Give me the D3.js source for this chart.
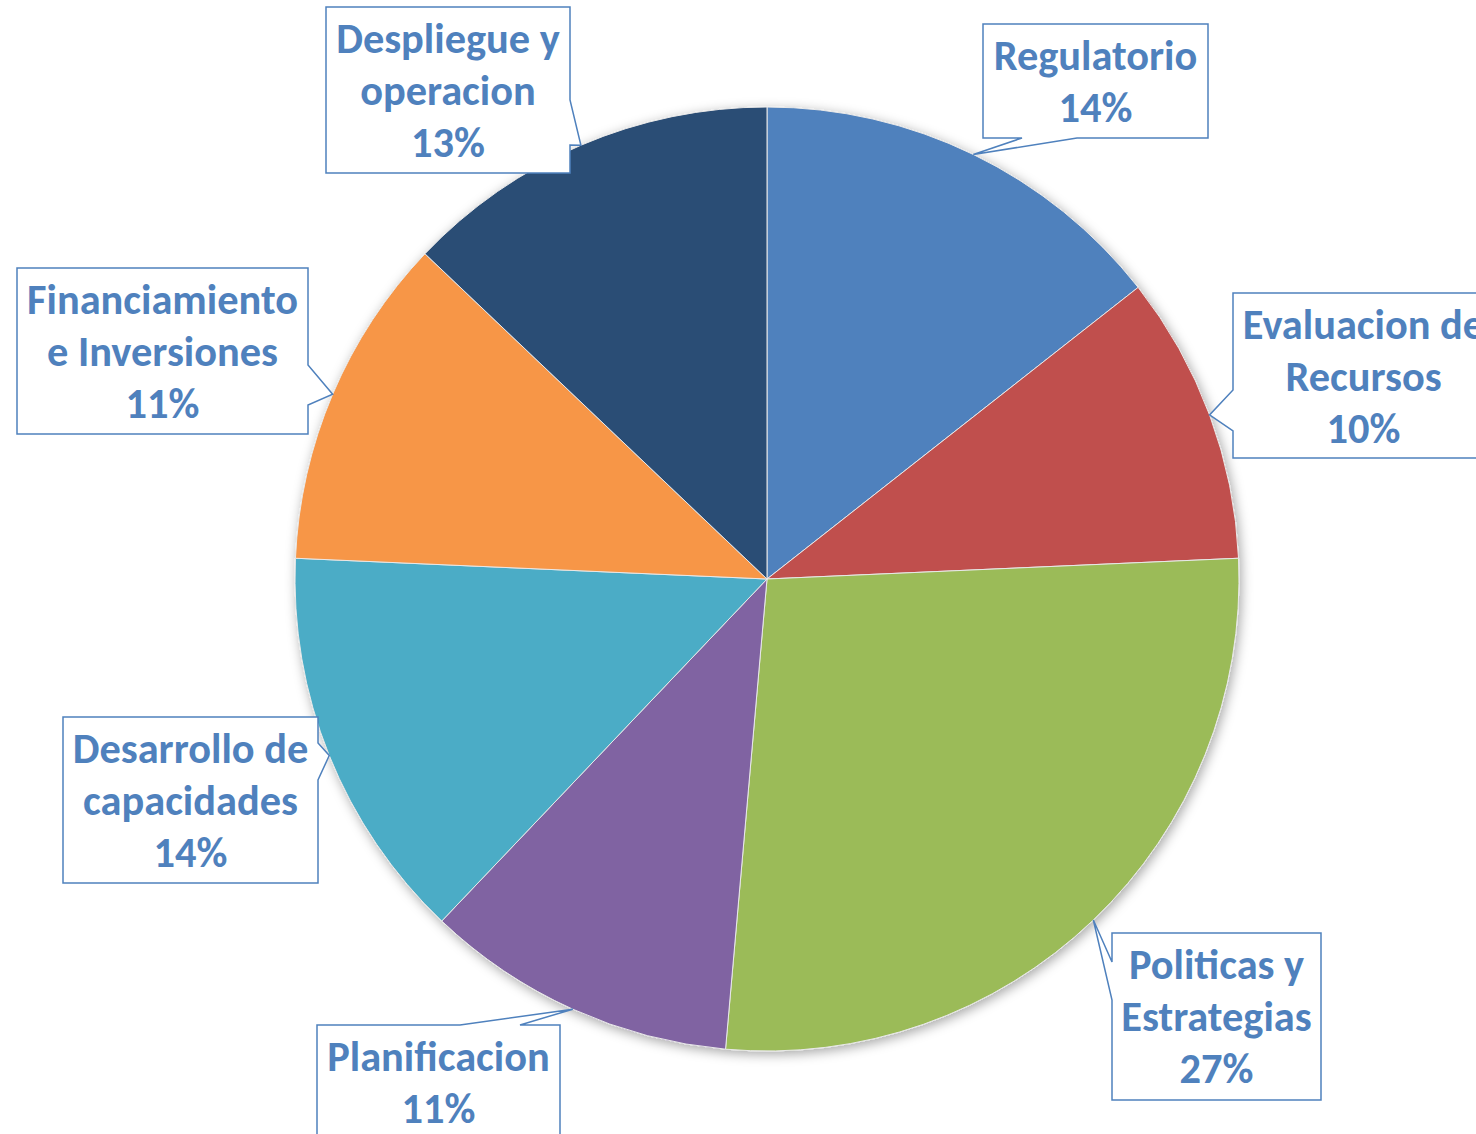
<!DOCTYPE html>
<html>
<head>
<meta charset="utf-8">
<script src="https://cdn.jsdelivr.net/npm/d3@7"></script>
<style>
  body { margin: 0; background: #fff; }
  svg { display: block; }
</style>
</head>
<body>
<svg id="chart" width="1476" height="1134"></svg>
<script>
const categories = ["Regulatorio", "Evaluacion de Recursos", "Politicas y Estrategias", "Planificacion",
    "Desarrollo de capacidades", "Financiamiento e Inversiones", "Despliegue y operacion"];
const labelLines = [["Regulatorio"], ["Evaluacion de", "Recursos"], ["Politicas y", "Estrategias"], ["Planificacion"],
    ["Desarrollo de", "capacidades"], ["Financiamiento", "e Inversiones"], ["Despliegue y", "operacion"]];
const values = [14.4, 9.9, 27.1, 10.7, 13.6, 11.4, 12.9];
const colors = ["#4F81BD", "#C0504D", "#9BBB59", "#8064A2", "#4BACC6", "#F79646", "#2C4D75"];

// callout boxes: rect, side the pointer leaves from, pointer base offsets along that side
const boxes = [
    {x: 983, y: 24, w: 225, h: 114, side: "bottom", b0: 39, b1: 94},
    {x: 1233, y: 293, w: 261, h: 165, side: "left", b0: 97, b1: 138},
    {x: 1112, y: 933, w: 209, h: 167, side: "left", b0: 29, b1: 67},
    {x: 317, y: 1025, w: 243, h: 114, side: "top", b0: 143, b1: 203},
    {x: 63, y: 717, w: 255, h: 166, side: "right", b0: 26, b1: 63},
    {x: 17, y: 268, w: 291, h: 166, side: "right", b0: 97, b1: 137},
    {x: 326, y: 7, w: 244, h: 166, side: "right", b0: 93, b1: 138}
];

const cx = 767, cy = 579, radius = 472;
const textColor = "#4F81BD";
const fontFamily = "Carlito, Calibri, Lato, sans-serif";

const svg = d3.select("#chart");

const defs = svg.append("defs");
const shadow = defs.append("filter").attr("id", "shadow")
    .attr("x", "-10%").attr("y", "-10%").attr("width", "120%").attr("height", "120%");
shadow.append("feDropShadow")
    .attr("dx", 2).attr("dy", 3).attr("stdDeviation", 6)
    .attr("flood-color", "#000").attr("flood-opacity", 0.35);

const data = categories.map((c, i) => ({name: c, value: values[i], lines: labelLines[i], box: boxes[i]}));
const total = d3.sum(values);
const pct = d3.format(".0%");

const pie = d3.pie().sort(null).value(d => d.value);
const arc = d3.arc().innerRadius(0).outerRadius(radius);
const arcs = pie(data);

const g = svg.append("g").attr("transform", `translate(${cx},${cy})`);

g.append("g").attr("filter", "url(#shadow)")
    .selectAll("path")
    .data(arcs)
    .enter().append("path")
    .attr("d", arc)
    .attr("fill", (d, i) => colors[i])
    .attr("stroke", "#e8e8e8")
    .attr("stroke-width", 1);

// fit font size so that "Financiamiento" is ~271px wide like the original
const probe = svg.append("text").attr("font-family", fontFamily).attr("font-weight", "bold")
    .attr("font-size", 100).text("Financiamiento");
const fontSize = 100 * 271 / probe.node().getComputedTextLength();
probe.remove();

function calloutPath(b, tip) {
    const {x, y, w, h, side, b0, b1} = b;
    let pts;
    if (side === "top") {
        pts = [[x, y], [x + b0, y], tip, [x + b1, y], [x + w, y], [x + w, y + h], [x, y + h]];
    } else if (side === "right") {
        pts = [[x, y], [x + w, y], [x + w, y + b0], tip, [x + w, y + b1], [x + w, y + h], [x, y + h]];
    } else if (side === "bottom") {
        pts = [[x, y], [x + w, y], [x + w, y + h], [x + b1, y + h], tip, [x + b0, y + h], [x, y + h]];
    } else {
        pts = [[x, y], [x + w, y], [x + w, y + h], [x, y + h], [x, y + b1], tip, [x, y + b0]];
    }
    return "M" + pts.map(p => p.join(",")).join("L") + "Z";
}

const labels = svg.append("g").selectAll("g.callout")
    .data(arcs)
    .enter().append("g")
    .attr("class", "callout");

labels.append("path")
    .attr("d", d => {
        const a = (d.startAngle + d.endAngle) / 2;
        const tip = [cx + radius * Math.sin(a), cy - radius * Math.cos(a)];
        return calloutPath(d.data.box, tip);
    })
    .attr("fill", "#fff")
    .attr("stroke", "#4F81BD")
    .attr("stroke-width", 1.5)
    .attr("stroke-linejoin", "miter");

labels.each(function(d) {
    const b = d.data.box;
    const lines = d.data.lines.concat([pct(d.data.value / total)]);
    d3.select(this).selectAll("text")
        .data(lines)
        .enter().append("text")
        .attr("x", b.x + b.w / 2)
        .attr("y", (t, i) => b.y + 46 + i * 52)
        .attr("text-anchor", "middle")
        .attr("font-family", fontFamily)
        .attr("font-weight", "bold")
        .attr("font-size", fontSize)
        .attr("fill", textColor)
        .text(t => t);
});
</script>
</body>
</html>
